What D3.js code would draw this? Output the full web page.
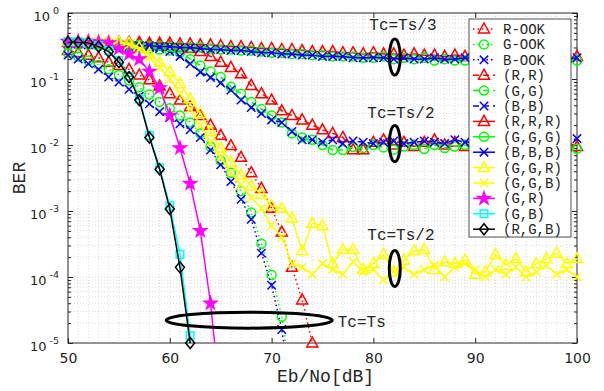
<!DOCTYPE html>
<html lang="en">
<head>
<meta charset="UTF-8">
<title>BER vs Eb/No</title>
<script src="https://d3js.org/d3.v7.min.js"></script>
<style>
  body { margin: 0; background: #fff; }
  .lbl { font-family: "Liberation Mono", monospace; fill: #262626; }
  .tk { font-family: "DejaVu Sans", sans-serif; fill: #262626; }
</style>
</head>
<body>
<svg id="chart" width="604" height="391"></svg>
<script>
// Eb/No grid [dB]
const ebno = [50,51,52,53,54,55,56,57,58,59,60,61,62,63,64,65,66,67,68,69,70,
  71,72,73,74,75,76,77,78,79,80,81,82,83,84,85,86,87,88,89,90,
  91,92,93,94,95,96,97,98,99,100];

// Tc = Ts : OOK and mixed colours
const rOOK = [0.27,0.25,0.23,0.21,0.18,0.16,0.14,0.115,0.097,0.078,0.06,0.048,0.038,0.028,0.02,
  0.014,0.0098,0.0065,0.0038,0.0022,0.0011,0.00048,0.00014,0.000045,0.00001];
const gOOK = [0.25,0.22,0.19,0.165,0.14,0.115,0.095,0.075,0.058,0.045,0.036,0.028,0.022,0.015,
  0.0095,0.0058,0.0038,0.002,0.00095,0.00032,0.000107,0.000025,0.0000025];
const bOOK = [0.23,0.20,0.17,0.14,0.107,0.09,0.07,0.055,0.042,0.032,0.026,0.021,0.017,0.013,
  0.0084,0.005,0.0028,0.0015,0.00075,0.00023,0.000075,0.000016,0.0000016];
const gr = [0.37,0.37,0.37,0.36,0.35,0.29,0.24,0.2,0.13,0.073,0.028,0.009,0.0026,0.0005,0.00004,0.0000013];
const gb = [0.37,0.37,0.35,0.32,0.27,0.19,0.11,0.05,0.014,0.0045,0.0012,0.00022,0.000013,0.0000005];
const rgb = [0.36,0.36,0.35,0.31,0.26,0.18,0.107,0.048,0.013,0.0043,0.00107,0.00014,0.00001];

// Tc = Ts/2
const rr = [0.36,0.36,0.36,0.35,0.35,0.35,0.34,0.34,0.33,0.32,
  0.31,0.30,0.29,0.26,0.22,0.18,0.15,0.12,0.08,0.06,
  0.048,0.033,0.028,0.024,0.02,0.017,0.015,0.013,0.0085,0.0085,
  0.011,0.012,0.010,0.011,0.0095,0.011,0.012,0.010,0.011,0.0095,
  0.011,0.010,0.012,0.011,0.0095,0.011,0.010,0.011,0.0095,0.011,0.0095];
const gg = [0.33,0.33,0.33,0.32,0.32,0.31,0.31,0.30,0.29,0.28,
  0.27,0.25,0.20,0.16,0.13,0.107,0.076,0.06,0.045,0.035,
  0.028,0.022,0.015,0.013,0.012,0.01,0.0084,0.0084,0.0093,0.009,
  0.010,0.0092,0.0085,0.0095,0.010,0.0087,0.010,0.009,0.0095,0.010,
  0.009,0.010,0.0086,0.010,0.009,0.0095,0.010,0.009,0.010,0.0095,0.0088];
const bb = [0.34,0.34,0.33,0.33,0.33,0.32,0.31,0.31,0.30,0.29,
  0.26,0.22,0.17,0.127,0.105,0.087,0.068,0.048,0.037,0.03,
  0.024,0.022,0.016,0.012,0.012,0.011,0.012,0.0105,0.0115,0.011,
  0.0105,0.011,0.0115,0.0105,0.011,0.0115,0.011,0.0105,0.012,0.011,
  0.0115,0.011,0.0105,0.011,0.012,0.011,0.0105,0.011,0.0115,0.011,0.0125];
const ggr = [0.37,0.37,0.37,0.37,0.37,0.36,0.35,0.30,0.24,0.18,
  0.13,0.085,0.05,0.03,0.016,0.009,0.0055,0.0035,0.0024,0.0018,
  0.0012,0.0011,0.00078,0.00025,0.00065,0.0006,0.00016,0.00026,0.00026,0.00013,
  0.00016,0.00022,0.00012,0.00018,0.00025,0.00026,0.00013,0.00017,0.00016,0.00018,
  0.00011,0.00012,0.00022,0.00015,0.00019,0.00012,0.00016,0.00019,0.00023,0.00016,0.00019];
const ggb = [0.37,0.37,0.37,0.37,0.36,0.35,0.33,0.28,0.21,0.15,
  0.10,0.06,0.035,0.02,0.011,0.0065,0.0038,0.0025,0.0016,0.0011,
  0.0006,0.0004,0.00016,0.00014,0.00011,0.00016,0.00013,0.00011,0.00017,0.00012,
  0.00013,0.00009,0.00012,0.00014,0.00011,0.00013,0.00015,0.0001,0.00014,0.00016,
  0.00013,0.0001,0.00013,0.00011,0.00014,0.0001,0.00012,0.00015,0.00011,0.00013,0.0001];

// Tc = Ts/3
const rrr = [0.37,0.37,0.37,0.36,0.37,0.36,0.36,0.36,0.35,0.35,
  0.35,0.34,0.34,0.33,0.33,0.32,0.31,0.31,0.30,0.29,
  0.29,0.28,0.28,0.27,0.26,0.26,0.26,0.25,0.25,0.24,
  0.25,0.24,0.24,0.23,0.24,0.23,0.23,0.22,0.23,0.22,
  0.22,0.23,0.22,0.22,0.21,0.22,0.22,0.21,0.22,0.21,0.22];
const ggg = [0.34,0.35,0.34,0.34,0.33,0.34,0.33,0.33,0.32,0.32,
  0.31,0.31,0.30,0.30,0.29,0.28,0.28,0.27,0.27,0.26,
  0.25,0.25,0.24,0.24,0.23,0.23,0.22,0.22,0.22,0.21,
  0.21,0.22,0.20,0.21,0.20,0.21,0.19,0.20,0.19,0.19,
  0.20,0.19,0.20,0.19,0.20,0.19,0.20,0.19,0.20,0.20,0.19];
const bbb = [0.35,0.35,0.34,0.34,0.34,0.33,0.33,0.32,0.32,0.31,
  0.31,0.30,0.30,0.29,0.28,0.28,0.27,0.27,0.26,0.25,
  0.25,0.24,0.24,0.23,0.23,0.22,0.22,0.22,0.21,0.21,
  0.21,0.21,0.20,0.21,0.20,0.20,0.21,0.20,0.20,0.21,
  0.20,0.21,0.20,0.20,0.21,0.20,0.20,0.21,0.20,0.20,0.21];

const names = ["R-OOK","G-OOK","B-OOK","(R,R)","(G,G)","(B,B)","(R,R,R)","(G,G,G)","(B,B,B)",
  "(G,G,R)","(G,G,B)","(G,R)","(G,B)","(R,G,B)"];
const values = [rOOK,gOOK,bOOK,rr,gg,bb,rrr,ggg,bbb,ggr,ggb,gr,gb,rgb];
const colors = ["#ff0000","#00ff00","#0000ff","#ff0000","#00ff00","#0000ff","#ff0000","#00ff00","#0000ff",
  "#ffff00","#ffff00","#ff00ff","#00ffff","#000000"];
const markers = ["tri","circ","x","tri","circ","x","tri","circ","x","tri","x","star","sq","dia"];
const dashes = ["1.5,3","1.5,3","1.5,3","6,4","6,4","6,4",null,null,null,null,null,null,null,null];

const xTicks = [50,60,70,80,90,100];
const yTicks = [1e-5,1e-4,1e-3,1e-2,1e-1,1];
const yTickExp = ["-5","-4","-3","-2","-1","0"];

const notes = [
  {text:"Tc=Ts/3", tx:79.6, ty:0.55, ex:82.1, ey:0.215, rx:5.5, ry:18},
  {text:"Tc=Ts/2", tx:79.4, ty:0.026, ex:82.1, ey:0.0105, rx:5.5, ry:18},
  {text:"Tc=Ts/2", tx:79.4, ty:0.00036, ex:82.1, ey:0.000135, rx:5.5, ry:18},
  {text:"Tc=Ts", tx:76.5, ty:0.0000175, ex:67.8, ey:0.0000222, rx:83, ry:8}
];

const W = 604, H = 391;
const m = {l: 68, r: 577, t: 13, b: 343};
const svg = d3.select("#chart");
const x = d3.scaleLinear().domain([50,100]).range([m.l, m.r]);
const y = d3.scaleLog().domain([1e-5,1]).range([m.b, m.t]);

// grid
const g = svg.append("g");
const xMinor = d3.range(51,100);
const yMinor = [];
for (let e = -5; e < 0; e++) for (let k = 2; k <= 9; k++) yMinor.push(k * Math.pow(10, e));
g.selectAll(".gx").data(xMinor).join("line")
  .attr("x1", d => x(d)).attr("x2", d => x(d)).attr("y1", m.t).attr("y2", m.b)
  .attr("stroke", "#c4c4c4").attr("stroke-width", 0.6).attr("stroke-dasharray", "1,2");
g.selectAll(".gy").data(yMinor.concat(yTicks.slice(1,5))).join("line")
  .attr("x1", m.l).attr("x2", m.r).attr("y1", d => y(d)).attr("y2", d => y(d))
  .attr("stroke", "#c4c4c4").attr("stroke-width", 0.6).attr("stroke-dasharray", "1,2");

// axes
const ax = svg.append("g").attr("color", "#262626");
ax.append("g").attr("transform", `translate(0,${m.b})`)
  .call(d3.axisBottom(x).tickValues(xTicks).tickSize(-5).tickPadding(7).tickFormat(d3.format("d")))
  .call(s => s.select(".domain").remove())
  .call(s => s.selectAll("text").attr("class", "tk").attr("font-size", 14).attr("dy", "0.9em"));
ax.append("g").attr("transform", `translate(0,${m.t})`)
  .call(d3.axisTop(x).tickValues(xTicks).tickSize(-5).tickFormat(""))
  .call(s => s.select(".domain").remove());
[[d3.axisLeft, m.l], [d3.axisRight, m.r]].forEach(([fn, px]) => {
  ax.append("g").attr("transform", `translate(${px},0)`)
    .call(fn(y).tickValues(yTicks).tickSize(-5).tickFormat(""))
    .call(s => s.select(".domain").remove());
  ax.append("g").attr("transform", `translate(${px},0)`)
    .call(fn(y).tickValues(yMinor).tickSize(-3).tickFormat(""))
    .call(s => s.select(".domain").remove());
});
const yl = svg.append("g");
yTicks.forEach((t, i) => {
  const txt = yl.append("text").attr("class", "tk").attr("text-anchor", "end")
    .attr("x", m.l - 9).attr("y", y(t) + 8).attr("font-size", 13);
  txt.append("tspan").text("10");
  txt.append("tspan").attr("dx", 3).attr("dy", -7).attr("font-size", 9.5).text(yTickExp[i]);
});
svg.append("rect").attr("x", m.l).attr("y", m.t).attr("width", m.r - m.l).attr("height", m.b - m.t)
  .attr("fill", "none").attr("stroke", "#262626").attr("stroke-width", 1);

// axis labels
svg.append("text").attr("class", "lbl").attr("x", (m.l + m.r) / 2 + 3).attr("y", 382)
  .attr("text-anchor", "middle").attr("font-size", 18).text("Eb/No[dB]");
svg.append("text").attr("class", "lbl").attr("transform", `translate(25,${(m.t + m.b) / 2}) rotate(-90)`)
  .attr("text-anchor", "middle").attr("font-size", 18).text("BER");

// markers
function markerPath(type) {
  switch (type) {
    case "tri": return "M0,-6L5.5,4L-5.5,4Z";
    case "circ": return "M4.5,0A4.5,4.5 0 1,1 -4.5,0A4.5,4.5 0 1,1 4.5,0Z";
    case "x": return "M-4.2,-4.2L4.2,4.2M-4.2,4.2L4.2,-4.2";
    case "sq": return "M-3.8,-3.8H3.8V3.8H-3.8Z";
    case "dia": return "M0,-5.5L4.5,0L0,5.5L-4.5,0Z";
    case "star": return d3.symbol(d3.symbolStar, 48)();
  }
}

svg.append("clipPath").attr("id", "plotclip").append("rect")
  .attr("x", 0).attr("y", 0).attr("width", W).attr("height", m.b);

const line = d3.line().x(d => x(d[0])).y(d => y(d[1]));
const plot = svg.append("g");
values.forEach((vals, i) => {
  const pts = vals.map((v, j) => [ebno[j], v]);
  plot.append("path").datum(pts).attr("d", line)
    .attr("fill", "none").attr("stroke", colors[i]).attr("stroke-width", 1.5)
    .attr("stroke-dasharray", dashes[i]).attr("clip-path", "url(#plotclip)");
  plot.append("g").selectAll("path").data(pts.filter(p => p[1] >= 1e-5)).join("path")
    .attr("transform", d => `translate(${x(d[0])},${y(d[1])})`)
    .attr("d", markerPath(markers[i]))
    .attr("fill", markers[i] === "star" ? colors[i] : "none")
    .attr("stroke", colors[i]).attr("stroke-width", 1.5);
});

// annotations
const an = svg.append("g");
notes.forEach(n => {
  an.append("ellipse").attr("cx", x(n.ex)).attr("cy", y(n.ey)).attr("rx", n.rx).attr("ry", n.ry)
    .attr("fill", "none").attr("stroke", "#000").attr("stroke-width", 3);
  an.append("text").attr("class", "lbl").attr("x", x(n.tx)).attr("y", y(n.ty))
    .attr("font-size", 16).attr("fill", "#000").text(n.text);
});

// legend
const lg = svg.append("g").attr("transform", "translate(469,19)");
lg.append("rect").attr("width", 102).attr("height", 218)
  .attr("fill", "#fff").attr("stroke", "#262626").attr("stroke-width", 0.8);
names.forEach((nm, i) => {
  const cy = 10 + i * 15.4;
  const row = lg.append("g").attr("transform", `translate(0,${cy})`);
  row.append("line").attr("x1", 4).attr("x2", 26)
    .attr("stroke", colors[i]).attr("stroke-width", 1.5).attr("stroke-dasharray", dashes[i]);
  row.append("path").attr("transform", "translate(15,0)").attr("d", markerPath(markers[i]))
    .attr("fill", markers[i] === "star" ? colors[i] : "none")
    .attr("stroke", colors[i]).attr("stroke-width", 1.5);
  row.append("text").attr("class", "lbl").attr("x", 34).attr("y", 5)
    .attr("font-size", 14).text(nm);
});
</script>
</body>
</html>
